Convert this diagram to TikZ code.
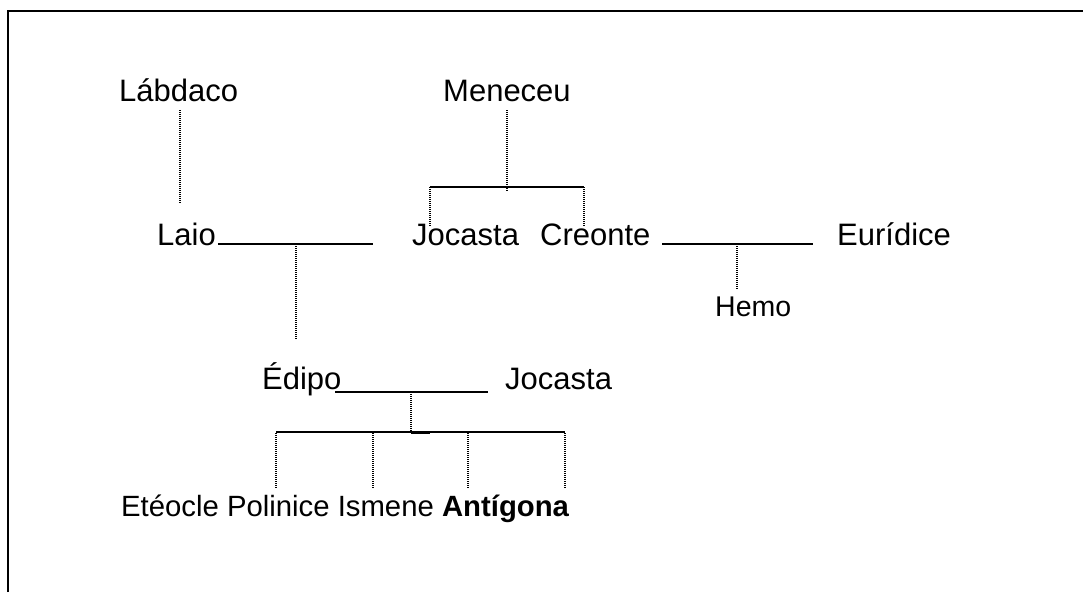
\documentclass[tikz,border=0pt]{standalone}
\usepackage{fontspec}
\setmainfont{Liberation Sans}
\begin{document}
\begin{tikzpicture}[x=1pt,y=-1pt,
  person/.style={anchor=base west,inner sep=0pt,font=\fontsize{31}{36}\selectfont},
  minorperson/.style={anchor=base west,inner sep=0pt,font=\fontsize{28.5}{34}\selectfont},
  kidsrow/.style={anchor=base west,inner sep=0pt,font=\fontsize{29.3}{34}\selectfont},
  tieline/.style={line width=1.6pt},
  descentline/.style={line width=1.3pt,dash pattern=on 1pt off 1pt},
  outline/.style={line width=2pt}]
\useasboundingbox (0,0) rectangle (1083,592);

% outer frame (left and top edges)
\draw[outline] (8,592) -- (8,11) -- (1083,11);

% names
\node[person] (labdaco) at (119,101) {Lábdaco};
\node[person] (meneceu) at (443,101) {Meneceu};
\node[person] (laio) at (157,245) {Laio};
\node[person] (jocasta1) at (412,245) {Jocasta};
\node[person] (creonte) at (540,245) {Creonte};
\node[person] (euridice) at (837,245) {Eurídice};
\node[minorperson] (hemo) at (715,316) {Hemo};
\node[person] (edipo) at (262,389) {Édipo};
\node[person] (jocasta2) at (505,389) {Jocasta};
\node[kidsrow] (children) at (121,516) {Etéocle Polinice Ismene \textbf{Antígona}};

% Lábdaco -> Laio
\coordinate (l1) at (180,110);
\coordinate (l2) at (180,204);
\draw[descentline] (l1) -- (l2);

% Laio's line and descent to Édipo
\coordinate (laA) at (218,244);
\coordinate (laB) at (373,244);
\draw[tieline] (laA) -- (laB);
\coordinate (la1) at (296,246);
\coordinate (la2) at (296,340);
\draw[descentline] (la1) -- (la2);

% Meneceu -> Jocasta, Creonte
\coordinate (m1) at (507,110);
\coordinate (m2) at (507,192);
\draw[descentline] (m1) -- (m2);
\coordinate (mA) at (430,187);
\coordinate (mB) at (584,187);
\draw[tieline] (mA) -- (mB);
\coordinate (mA2) at (430,226);
\coordinate (mB2) at (584,226);
\draw[descentline] (mA) -- (mA2);
\draw[descentline] (mB) -- (mB2);

% Creonte and Eurídice -> Hemo
\coordinate (cA) at (662,244);
\coordinate (cB) at (813,244);
\draw[tieline] (cA) -- (cB);
\coordinate (h1) at (737,246);
\coordinate (h2) at (737,290);
\draw[descentline] (h1) -- (h2);

% Édipo and Jocasta -> children
\coordinate (eA) at (335,392);
\coordinate (eB) at (488,392);
\draw[tieline] (eA) -- (eB);
\coordinate (e1) at (411,394);
\coordinate (e2) at (411,432);
\draw[descentline] (e1) -- (e2);
\coordinate (kA) at (276,432);
\coordinate (kB) at (565,432);
\draw[tieline] (kA) -- (kB);
\draw[tieline] (411,433) -- (430,433);
\foreach \x in {276,373,468,565}{
  \draw[descentline] (\x,433) -- (\x,489);
}
\end{tikzpicture}
\end{document}
